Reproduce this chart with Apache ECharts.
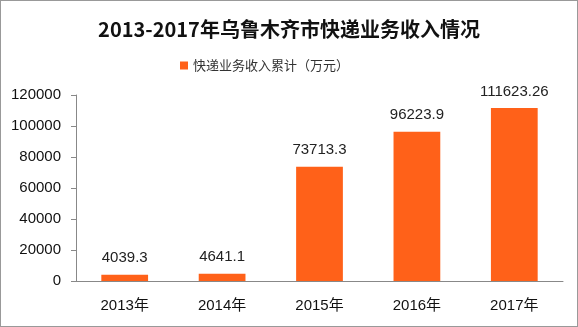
<!DOCTYPE html>
<html><head><meta charset="utf-8">
<script src="https://cdn.jsdelivr.net/npm/echarts@6/dist/echarts.min.js"></script>
<style>html,body{margin:0;padding:0;background:#fff}#c{width:576px;height:325px;border:1px solid #999}</style>
</head><body><div id="c"></div>
<script>
const categories = ['2013年','2014年','2015年','2016年','2017年'];
const values = [4039.3, 4641.1, 73713.3, 96223.9, 111623.26];
const seriesName = '快递业务收入累计（万元）';
const titleText = '2013-2017年乌鲁木齐市快递业务收入情况';
const numFont = 'Liberation Sans, Noto Sans CJK SC';
const chart = echarts.init(document.getElementById('c'));
chart.setOption({
  animation:false,
  title:{text:titleText,left:'center',top:13,textStyle:{fontFamily:'Noto Sans CJK SC',fontSize:20,fontWeight:'bold',color:'#111'}},
  legend:{top:53,left:174,itemWidth:8,itemHeight:8,icon:'rect',itemGap:6,textStyle:{fontFamily:'Noto Sans CJK SC',fontSize:13,color:'#333'},data:[seriesName]},
  grid:{left:75,right:14,top:94,bottom:45},
  xAxis:{type:'category',data:categories,axisLine:{lineStyle:{color:'#888'}},axisTick:{lineStyle:{color:'#888'},length:5},
    axisLabel:{color:'#111',fontSize:15,fontFamily:numFont,margin:17}},
  yAxis:{type:'value',min:0,max:120000,interval:20000,splitLine:{show:false},axisLine:{show:true,lineStyle:{color:'#888'}},
    axisTick:{show:true,lineStyle:{color:'#888'},length:5},axisLabel:{color:'#111',fontSize:15,fontFamily:numFont,margin:15,formatter:v=>String(v)}},
  series:[{name:seriesName,type:'bar',data:values,barWidth:'48%',itemStyle:{color:'#FF6119'},
    label:{show:true,position:'top',distance:9,color:'#222',fontSize:15,fontFamily:numFont}}]
});
</script></body></html>
